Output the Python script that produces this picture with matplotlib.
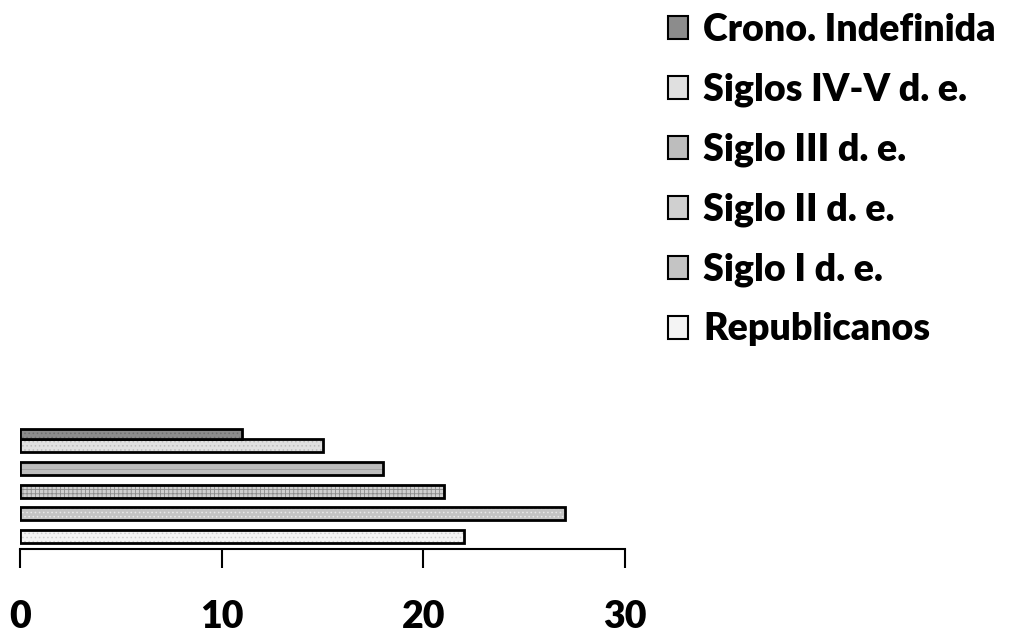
import matplotlib.pyplot as plt
from matplotlib.patches import Patch

series = ["Republicanos", "Siglo I d. e.", "Siglo II d. e.",
          "Siglo III d. e.", "Siglos IV-V d. e.", "Crono. Indefinida"]
values = [22, 27, 21, 18, 15, 11]
fills = ["#f4f4f4", "#c4c4c4", "#d0d0d0", "#bdbdbd", "#e0e0e0", "#8c8c8c"]
hatches = ["....", "....", "++++", "---", "....", "...."]
hatch_cols = ["#cfcfcf", "#e8e8e8", "#8a8a8a", "#a0a0a0", "#bcbcbc", "#707070"]
ticks = [0, 10, 20, 30]

plt.rcParams['font.family'] = ['Lato', 'DejaVu Sans']
plt.rcParams['font.weight'] = 'heavy'
plt.rcParams['hatch.linewidth'] = 0.6

fig = plt.figure(figsize=(10.13, 6.34), dpi=100)
# axes in pixel-ish units: y measured up from the axis line
ax = fig.add_axes([20 / 1013, 85 / 634, 605 / 1013, 125 / 634])
ax.set_xlim(0, 30)
ax.set_ylim(0, 125)

ypos = [12.5, 35.2, 58.0, 80.6, 103.3, 115.0]
heights = [13, 13, 13, 13, 13, 10]

for i in range(len(series)):
    ax.barh(ypos[i], values[i], height=heights[i], color=fills[i],
            hatch=hatches[i], edgecolor=hatch_cols[i], linewidth=0)
    ax.barh(ypos[i], values[i], height=heights[i], fill=False,
            edgecolor="black", linewidth=2)

for s in ["top", "right", "left"]:
    ax.spines[s].set_visible(False)
ax.spines["bottom"].set_linewidth(1.5)
ax.set_yticks([])
ax.set_xticks(ticks)
ax.tick_params(axis="x", direction="out", length=14, width=1.5,
               labelsize=27, pad=23)
for lab in ax.get_xticklabels():
    lab.set_fontweight("heavy")

handles = []
for i in range(len(series) - 1, -1, -1):
    handles.append(Patch(facecolor=fills[i], edgecolor="black",
                         linewidth=1.5, label=series[i]))
fig.legend(handles=handles, loc="upper left", bbox_to_anchor=(645 / 1013, 1.015),
           frameon=False, prop={"size": 27, "weight": "heavy"},
           handlelength=0.55, handleheight=0.55, handletextpad=0.4,
           labelspacing=0.68, borderaxespad=0.2)

fig.savefig("out.png", dpi=100)
